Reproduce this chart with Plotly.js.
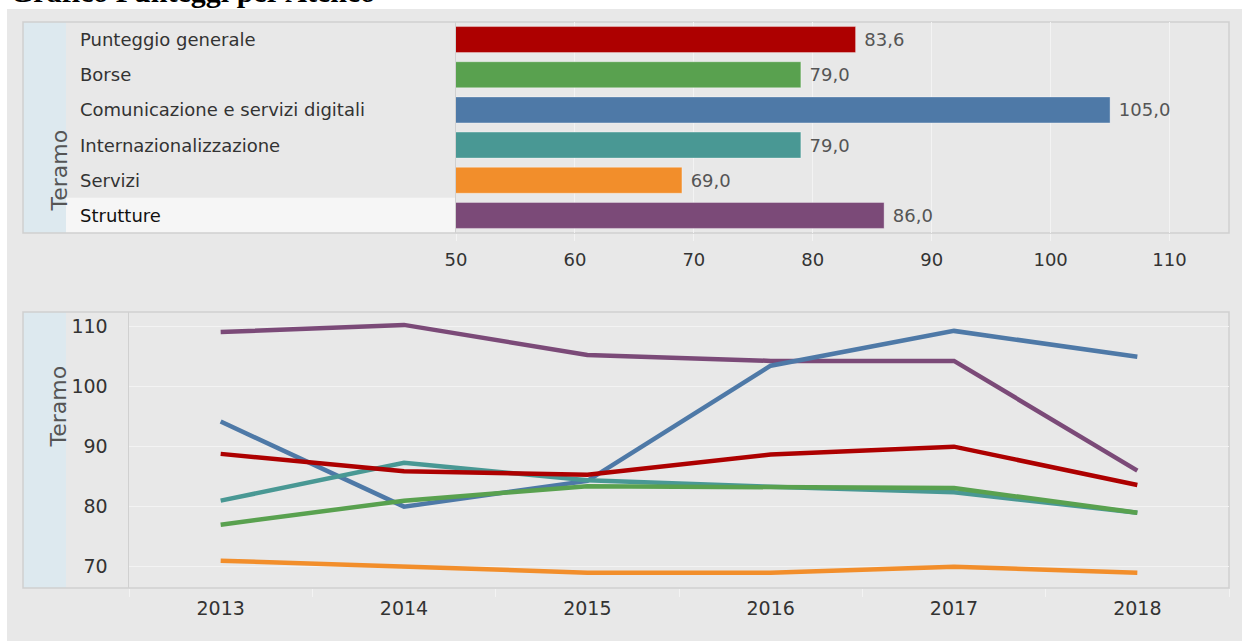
<!DOCTYPE html>
<html><head><meta charset="utf-8">
<script src="https://cdn.plot.ly/plotly-3.0.1.min.js"></script>
<style>html,body{margin:0;padding:0;background:#fff;overflow:hidden}#chart{width:1242px;height:641px}</style>
</head><body><div id="chart"></div>
<script>
// ---- data ----
const pageTitle = "Grafico Punteggi per Ateneo";
const rowHeader = "Teramo";
const categories = ["Punteggio generale","Borse","Comunicazione e servizi digitali","Internazionalizzazione","Servizi","Strutture"];
const seriesColors = ["#ad0000","#59a14f","#4e79a7","#499894","#f28e2b","#7b4a78"];
const latestScores = [83.6, 79.0, 105.0, 79.0, 69.0, 86.0];
const barTicks = [50, 60, 70, 80, 90, 100, 110];
const years = [2013, 2014, 2015, 2016, 2017, 2018];
const puntGenerale   = [88.8, 85.9, 85.3, 88.7, 90.0, 83.6];
const borse          = [77, 81, 83.4, 83.2, 83.1, 79];
const comunicazione  = [94.2, 80, 84.3, 103.5, 109.3, 105];
const internaz       = [81, 87.3, 84.4, 83.3, 82.4, 79];
const servizi        = [71, 70, 69, 69, 70, 69];
const strutture      = [109.1, 110.3, 105.3, 104.3, 104.3, 86];
const lineTicks = [70, 80, 90, 100, 110];
const selectedRow = "Strutture";

// ---- helpers ----
const W = 1242, H = 641;
const px = x => x / W;
const py = y => 1 - y / H;
const FONT = "DejaVu Sans";

const lineSeries = [
  {name: categories[5], y: strutture,     color: seriesColors[5]},
  {name: categories[2], y: comunicazione, color: seriesColors[2]},
  {name: categories[3], y: internaz,      color: seriesColors[3]},
  {name: categories[4], y: servizi,       color: seriesColors[4]},
  {name: categories[1], y: borse,         color: seriesColors[1]},
  {name: categories[0], y: puntGenerale,  color: seriesColors[0]}
];

const traces = [{
  type: 'bar', orientation: 'h', x: latestScores, y: categories,
  xaxis: 'x', yaxis: 'y', width: 0.74,
  marker: {color: seriesColors, line: {color: 'rgba(255,255,255,0.35)', width: 1}},
  texttemplate: ' %{x:.1f}', textposition: 'outside', cliponaxis: false,
  textfont: {family: FONT, size: 18, color: '#555'}, hoverinfo: 'none'
}];
lineSeries.forEach(s => traces.push({
  type: 'scatter', mode: 'lines', name: s.name, x: years, y: s.y,
  xaxis: 'x2', yaxis: 'y2', line: {color: s.color, width: 4.5}, hoverinfo: 'none'
}));

const selIdx = categories.indexOf(selectedRow);
const shapes = [
  {type:'rect', xref:'paper', yref:'paper', x0:px(7), x1:1, y0:0, y1:py(9), fillcolor:'#e8e8e8', line:{width:0}, layer:'below'},
  {type:'rect', xref:'paper', yref:'paper', x0:px(23), x1:px(66), y0:py(233), y1:py(22), fillcolor:'#dde9ef', line:{width:0}, layer:'below'},
  {type:'rect', xref:'paper', yref:'y', x0:px(66), x1:px(456), y0:selIdx-0.5, y1:selIdx+0.5, fillcolor:'#f6f6f6', line:{width:0}, layer:'below'},
  {type:'rect', xref:'paper', yref:'paper', x0:px(23), x1:px(1229), y0:py(233), y1:py(22), fillcolor:'rgba(0,0,0,0)', line:{color:'#d0d0d0', width:1.5}, layer:'below'},
  {type:'rect', xref:'paper', yref:'paper', x0:px(23), x1:px(66), y0:py(588), y1:py(312), fillcolor:'#dde9ef', line:{width:0}, layer:'below'},
  {type:'rect', xref:'paper', yref:'paper', x0:px(23), x1:px(1229), y0:py(588), y1:py(312), fillcolor:'rgba(0,0,0,0)', line:{color:'#d0d0d0', width:1.5}, layer:'below'}
];

const annotations = categories.map(c => ({
  xref:'paper', yref:'y', x:px(78), xanchor:'left', y:c, yanchor:'middle',
  text:c, showarrow:false, font:{family:FONT, size:18, color: c === selectedRow ? '#111' : '#333'}
}));
annotations.push(
  {xref:'paper', yref:'paper', x:px(44), y:py(128), text:rowHeader, textangle:-90, showarrow:false, font:{family:FONT, size:22, color:'#555'}},
  {xref:'paper', yref:'paper', x:px(44), y:py(450), text:rowHeader, textangle:-90, showarrow:false, font:{family:FONT, size:22, color:'#555'}},
  {xref:'paper', yref:'paper', x:px(8), xanchor:'left', y:py(10), yanchor:'bottom', text:'<b>'+pageTitle+'</b>', showarrow:false, font:{family:'Liberation Serif', size:30, color:'#000'}}
);

const boundaries = years.map(y => y - 0.5).concat([years[years.length-1] + 0.5]);

const layout = {
  width: W, height: H, margin: {l:0, r:0, t:0, b:0},
  paper_bgcolor: '#fff', plot_bgcolor: 'rgba(0,0,0,0)',
  showlegend: false, separators: ',.',
  font: {family: FONT, color: '#333'},
  xaxis: {domain:[px(456), px(1229)], range:[50, 115], anchor:'y', tickvals: barTicks,
    showgrid:true, gridcolor:'#f3f3f3', gridwidth:1, zeroline:false, showline:false,
    ticks:'outside', ticklen:7, tickcolor:'#f3f3f3', ticklabelstandoff: 3,
    tickfont:{family:FONT, size:18, color:'#333'}, fixedrange:true},
  yaxis: {domain:[py(233), py(22)], anchor:'x', type:'category', autorange:'reversed',
    showticklabels:false, showgrid:false, zeroline:false, showline:true,
    linecolor:'#d0d0d0', linewidth:1.5, ticks:'', fixedrange:true},
  xaxis2: {domain:[px(129), px(1229)], range:[boundaries[0], boundaries[boundaries.length-1]], anchor:'y2',
    tickvals: years, ticktext: years.map(String), showgrid:false, zeroline:false, showline:false,
    ticks:'', ticklabelstandoff: 7,
    minor: {tickmode:'array', tickvals: boundaries, ticks:'outside', ticklen:8, tickcolor:'#f3f3f3', showgrid:false},
    tickfont:{family:FONT, size:19, color:'#333'}, fixedrange:true},
  yaxis2: {domain:[py(588), py(312)], range:[66.44, 112.45], anchor:'x2', tickvals: lineTicks,
    showgrid:true, gridcolor:'#f3f3f3', gridwidth:1.5, zeroline:false, showline:true,
    linecolor:'#d0d0d0', linewidth:1.5, ticks:'', ticklabelstandoff: 16,
    tickfont:{family:FONT, size:19, color:'#333'}, fixedrange:true},
  shapes: shapes, annotations: annotations
};

Plotly.newPlot('chart', traces, layout, {staticPlot:true, displayModeBar:false});
</script></body></html>
